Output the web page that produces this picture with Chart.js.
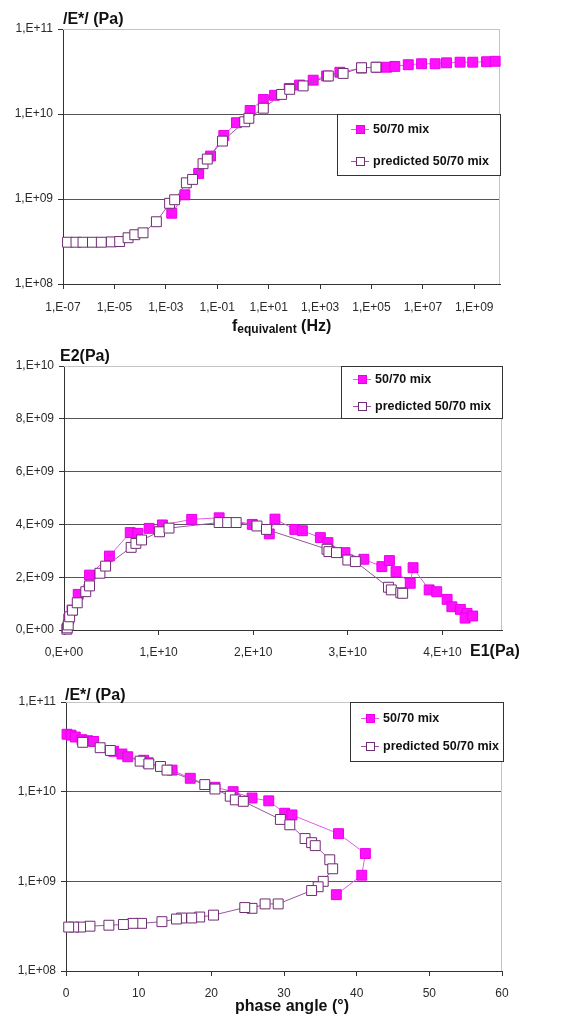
<!DOCTYPE html>
<html>
<head>
<meta charset="utf-8">
<script src="https://cdn.jsdelivr.net/npm/chart.js@4.4.1/dist/chart.umd.min.js"></script>
<style>
    body { margin: 0; background: #fff; width: 562px; height: 1018px; position: relative; overflow: hidden; }
    canvas { position: absolute; left: 0; }
</style>
</head>
<body>
<canvas id="graficoFreq" width="562" height="340" style="top:0px"></canvas>
<canvas id="graficoCole" width="562" height="330" style="top:340px"></canvas>
<canvas id="graficoBlack" width="562" height="348" style="top:670px"></canvas>
<script>
// |E*| vs equivalent frequency
const freqMeasured = [1.7e-3, 5.5e-3, 1.9e-2, 5.5e-2, 0.18, 0.56, 1.9, 6.2, 17, 63, 160, 540, 1.8e3, 5.9e3,
    4.1e4, 1.6e5, 3.9e5, 8.1e5, 2.7e6, 8.9e6, 3e7, 8.3e7, 2.8e8, 8.7e8, 3e9, 6.5e9];
const modMeasured = [6.8e8, 1.12e9, 2.0e9, 3.2e9, 5.6e9, 7.9e9, 1.1e10, 1.48e10, 1.66e10, 2.0e10, 2.19e10, 2.5e10,
    2.8e10, 3.1e10, 3.47e10, 3.55e10, 3.55e10, 3.63e10, 3.8e10, 3.9e10, 3.9e10, 4.0e10, 4.07e10, 4.07e10, 4.12e10, 4.17e10];
const freqPredicted = [1.5e-7, 3.2e-7, 6e-7, 1.4e-6, 3.1e-6, 7.6e-6, 1.6e-5, 3.4e-5, 6.2e-5, 1.3e-4, 4.3e-4, 1.4e-3,
    2.2e-3, 6.3e-3, 1.1e-2, 2.8e-2, 4.1e-2, 0.16, 1.17, 1.7, 6.2, 32, 66, 220, 2.1e3, 7.9e3, 4.1e4, 1.5e5];
const modPredicted = [3.1e8, 3.1e8, 3.1e8, 3.1e8, 3.1e8, 3.13e8, 3.16e8, 3.5e8, 3.8e8, 4.0e8, 5.4e8, 8.9e8, 9.8e8,
    1.55e9, 1.7e9, 2.6e9, 2.95e9, 4.8e9, 8.1e9, 8.9e9, 1.17e10, 1.7e10, 1.95e10, 2.14e10, 2.8e10, 3.0e10, 3.5e10, 3.55e10];

// E2 vs E1
const e1Measured = [0.05e10, 0.085e10, 0.15e10, 0.27e10, 0.48e10, 0.70e10, 0.78e10, 0.90e10, 1.04e10, 1.35e10, 1.64e10,
    1.99e10, 2.17e10, 2.23e10, 2.44e10, 2.52e10, 2.71e10, 2.79e10, 2.97e10, 3.17e10, 3.36e10, 3.44e10, 3.51e10,
    3.66e10, 3.69e10, 3.86e10, 3.94e10, 4.05e10, 4.10e10, 4.19e10, 4.26e10, 4.24e10, 4.32e10];
const e2Measured = [0.42e9, 0.75e9, 1.35e9, 2.08e9, 2.8e9, 3.69e9, 3.66e9, 3.85e9, 3.98e9, 4.19e9, 4.25e9,
    4.0e9, 3.64e9, 4.2e9, 3.81e9, 3.76e9, 3.5e9, 3.31e9, 2.93e9, 2.68e9, 2.4e9, 2.63e9, 2.21e9,
    1.77e9, 2.36e9, 1.52e9, 1.45e9, 1.16e9, 0.88e9, 0.78e9, 0.63e9, 0.45e9, 0.53e9];
const e1Predicted = [0.03e10, 0.035e10, 0.045e10, 0.06e10, 0.09e10, 0.14e10, 0.23e10, 0.27e10, 0.38e10, 0.44e10,
    0.71e10, 0.76e10, 0.82e10, 1.01e10, 1.11e10, 1.64e10, 1.73e10, 1.82e10, 2.04e10, 2.14e10, 2.78e10, 2.80e10,
    2.88e10, 3.00e10, 3.08e10, 3.43e10, 3.46e10, 3.56e10, 3.58e10];
const e2Predicted = [0.03e9, 0.08e9, 0.19e9, 0.5e9, 0.75e9, 1.03e9, 1.45e9, 1.67e9, 2.15e9, 2.42e9,
    3.13e9, 3.28e9, 3.41e9, 3.72e9, 3.86e9, 4.07e9, 4.07e9, 4.07e9, 3.94e9, 3.81e9, 3.06e9, 2.97e9,
    2.93e9, 2.65e9, 2.59e9, 1.62e9, 1.52e9, 1.41e9, 1.39e9];

// |E*| vs phase angle
const phaseMeasured = [0.14, 0.69, 1.28, 2.2, 3.0, 3.8, 6.55, 7.7, 8.5, 10.7, 11.3, 14.6, 17.1, 20.5, 23.0, 25.6,
    27.9, 30.1, 31.1, 37.5, 41.2, 40.7, 37.2];
const modPhaseMeasured = [4.37e10, 4.27e10, 4.07e10, 3.8e10, 3.7e10, 3.63e10, 2.82e10, 2.63e10, 2.45e10, 2.24e10,
    2.1e10, 1.74e10, 1.41e10, 1.12e10, 1.0e10, 8.5e9, 7.9e9, 5.75e9, 5.5e9, 3.4e9, 2.04e9, 1.17e9, 7.1e8];
const phasePredicted = [2.3, 4.7, 6.1, 10.2, 11.4, 13.0, 13.9, 19.1, 20.5, 22.6, 23.3, 24.4, 29.5, 30.8, 32.9, 33.8,
    34.3, 36.3, 36.7, 35.4, 34.7, 33.8, 29.2, 27.4, 25.6, 24.6, 20.3, 18.4, 17.3, 15.9, 15.2, 13.2, 10.4, 9.2, 7.9,
    5.9, 3.3, 2.0, 1.05, 0.37];
const modPhasePredicted = [3.55e10, 3.09e10, 2.88e10, 2.19e10, 2.04e10, 1.91e10, 1.74e10, 1.2e10, 1.07e10, 8.9e9,
    8.1e9, 7.8e9, 4.9e9, 4.27e9, 3.0e9, 2.7e9, 2.5e9, 1.74e9, 1.38e9, 1.0e9, 8.7e8, 7.9e8, 5.6e8, 5.6e8, 5.0e8,
    5.1e8, 4.2e8, 4.0e8, 3.9e8, 3.9e8, 3.8e8, 3.55e8, 3.4e8, 3.4e8, 3.3e8, 3.24e8, 3.16e8, 3.09e8, 3.09e8, 3.09e8];

// tick labels
const freqTicks = [1e-7, 1e-5, 1e-3, 1e-1, 1e1, 1e3, 1e5, 1e7, 1e9];
const modTicks = [1e8, 1e9, 1e10, 1e11];
const e1Ticks = [0, 1e10, 2e10, 3e10, 4e10];
const e2Ticks = [0, 2e9, 4e9, 6e9, 8e9, 1e10];
const phaseTicks = [0, 10, 20, 30, 40, 50, 60];

const serieNames = ["50/70 mix", "predicted 50/70 mix"];

const FONT = '"Liberation Sans", Arial, sans-serif';
Chart.defaults.font.family = FONT;

function rotuloE(v) {
    if (v === 0) return "0,E+00";
    let e = Math.floor(Math.log10(v) + 1e-9);
    let m = Math.round(v / Math.pow(10, e));
    if (m === 10) { m = 1; e++; }
    return m + ",E" + (e < 0 ? "-" : "+") + String(Math.abs(e)).padStart(2, "0");
}

function pontos(xs, ys) {
    return xs.map((x, i) => ({ x: x, y: ys[i] }));
}

// light grey frame on top and right of the plot area
const molduraPlugin = {
    id: "moldura",
    beforeDatasetsDraw(chart) {
        const a = chart.chartArea, ctx = chart.ctx;
        ctx.save();
        ctx.strokeStyle = "#c4c4c4";
        ctx.lineWidth = 1;
        ctx.beginPath();
        ctx.moveTo(a.left, a.top + 0.5);
        ctx.lineTo(a.right - 0.5, a.top + 0.5);
        ctx.lineTo(a.right - 0.5, a.bottom);
        ctx.stroke();
        ctx.restore();
    }
};

// axis titles, drawn as runs of text
const textosPlugin = {
    id: "textos",
    afterDraw(chart, args, opts) {
        const ctx = chart.ctx;
        ctx.save();
        ctx.fillStyle = "#111";
        ctx.textBaseline = "alphabetic";
        (opts.items || []).forEach(item => {
            let x = item.x;
            item.runs.forEach(r => {
                ctx.font = r.font;
                ctx.fillText(r.t, x, item.y + (r.dy || 0));
                x += ctx.measureText(r.t).width;
            });
        });
        ctx.restore();
    }
};

// boxed legend inside the plot area
const legendaPlugin = {
    id: "legendaBox",
    afterDraw(chart, args, o) {
        const ctx = chart.ctx;
        ctx.save();
        ctx.fillStyle = "#fff";
        ctx.fillRect(o.x, o.y, o.w, o.h);
        ctx.strokeStyle = "#333";
        ctx.lineWidth = 1;
        ctx.strokeRect(o.x + 0.5, o.y + 0.5, o.w, o.h);
        chart.data.datasets.forEach((ds, i) => {
            const y = o.rows[i];
            ctx.strokeStyle = ds.borderColor;
            ctx.beginPath();
            ctx.moveTo(o.mx - 9, y + 0.5);
            ctx.lineTo(o.mx + 9, y + 0.5);
            ctx.stroke();
            ctx.fillStyle = ds.pointBackgroundColor;
            ctx.fillRect(o.mx - 4, y - 4, 9, 9);
            ctx.strokeStyle = ds.pointBorderColor;
            ctx.strokeRect(o.mx - 3.5, y - 3.5, 8, 8);
            ctx.fillStyle = "#111";
            ctx.font = "bold 12.5px " + FONT;
            ctx.textBaseline = "middle";
            ctx.fillText(ds.label, o.tx, y + 0.5);
        });
        ctx.restore();
    }
};

function datasets(medido, previsto) {
    return [
        {
            label: serieNames[0],
            data: medido,
            showLine: true,
            borderColor: "#e45ae4",
            borderWidth: 1,
            pointStyle: "rect",
            pointRadius: 7,
            pointBorderWidth: 1,
            pointBackgroundColor: "#ff10ff",
            pointBorderColor: "#e800e8",
            order: 2,
            clip: false
        },
        {
            label: serieNames[1],
            data: previsto,
            showLine: true,
            borderColor: "#94589a",
            borderWidth: 1,
            pointStyle: "rect",
            pointRadius: 7,
            pointBorderWidth: 1,
            pointBackgroundColor: "#ffffff",
            pointBorderColor: "#6e2c72",
            order: 1,
            clip: false
        }
    ];
}

function eixoY(type, min, max, ticks, largura, fmt) {
    return {
        type: type, min: min, max: max,
        afterBuildTicks: s => { s.ticks = ticks.map(v => ({ value: v })); },
        afterFit: s => { s.width = largura; },
        ticks: { callback: fmt, font: { size: 12 }, color: "#2a2a2a", padding: 5, autoSkip: false },
        grid: {
            color: c => (c.tick && c.tick.value === max) ? "#c4c4c4" : "#555",
            tickColor: "#333",
            tickLength: 5
        },
        border: { color: "#333" }
    };
}

function eixoX(type, min, max, ticks, altura, pad, fmt) {
    return {
        type: type, min: min, max: max,
        afterBuildTicks: s => { s.ticks = ticks.map(v => ({ value: v })); },
        afterFit: s => { s.height = altura; },
        ticks: { callback: fmt, font: { size: 12 }, color: "#2a2a2a", padding: pad, maxRotation: 0, autoSkip: false },
        grid: { drawOnChartArea: false, color: "#333", tickLength: 5 },
        border: { color: "#333" }
    };
}

function criarGrafico(id, dados, scales, padding, textos, legenda) {
    return new Chart(document.getElementById(id), {
        type: "scatter",
        data: { datasets: dados },
        options: {
            responsive: false,
            animation: false,
            devicePixelRatio: 1,
            layout: { padding: padding },
            scales: scales,
            plugins: {
                legend: { display: false },
                tooltip: { enabled: false },
                textos: { items: textos },
                legendaBox: legenda
            }
        },
        plugins: [molduraPlugin, textosPlugin, legendaPlugin]
    });
}

const B16 = "bold 16px " + FONT;

criarGrafico("graficoFreq",
    datasets(pontos(freqMeasured, modMeasured), pontos(freqPredicted, modPredicted)),
    {
        x: eixoX("logarithmic", 1e-7, 1e10, freqTicks, 40, 11, v => rotuloE(v)),
        y: eixoY("logarithmic", 1e8, 1e11, modTicks, 63, v => rotuloE(v))
    },
    { left: 0, right: 62, top: 29, bottom: 16 },
    [
        { x: 63, y: 24, runs: [{ t: "/E*/ (Pa)", font: B16 }] },
        { x: 232, y: 331, runs: [
            { t: "f", font: B16 },
            { t: "equivalent", font: "bold 12px " + FONT, dy: 2 },
            { t: " (Hz)", font: B16 }
        ] }
    ],
    { x: 337, y: 114, w: 163, h: 61, rows: [129, 161], mx: 360, tx: 373 }
);

criarGrafico("graficoCole",
    datasets(pontos(e1Measured, e2Measured), pontos(e1Predicted, e2Predicted)),
    {
        x: eixoX("linear", 0, 4.63e10, e1Ticks, 30, 10, v => rotuloE(v)),
        y: eixoY("linear", 0, 1e10, e2Ticks, 64, v => rotuloE(v))
    },
    { left: 0, right: 60, top: 26, bottom: 10 },
    [
        { x: 60, y: 21, runs: [{ t: "E2(Pa)", font: B16 }] },
        { x: 470, y: 316, runs: [{ t: "E1(Pa)", font: B16 }] }
    ],
    { x: 341, y: 26, w: 161, h: 52, rows: [39, 66], mx: 362, tx: 375 }
);

criarGrafico("graficoBlack",
    datasets(pontos(phaseMeasured, modPhaseMeasured), pontos(phasePredicted, modPhasePredicted)),
    {
        x: eixoX("linear", 0, 60, phaseTicks, 30, 10, v => String(v)),
        y: eixoY("logarithmic", 1e8, 1e11, modTicks, 66, v => rotuloE(v))
    },
    { left: 0, right: 60, top: 32, bottom: 17 },
    [
        { x: 65, y: 30, runs: [{ t: "/E*/ (Pa)", font: B16 }] },
        { x: 235, y: 341, runs: [{ t: "phase angle (°)", font: B16 }] }
    ],
    { x: 350, y: 32, w: 153, h: 59, rows: [48, 76], mx: 370, tx: 383 }
);
</script>
</body>
</html>
